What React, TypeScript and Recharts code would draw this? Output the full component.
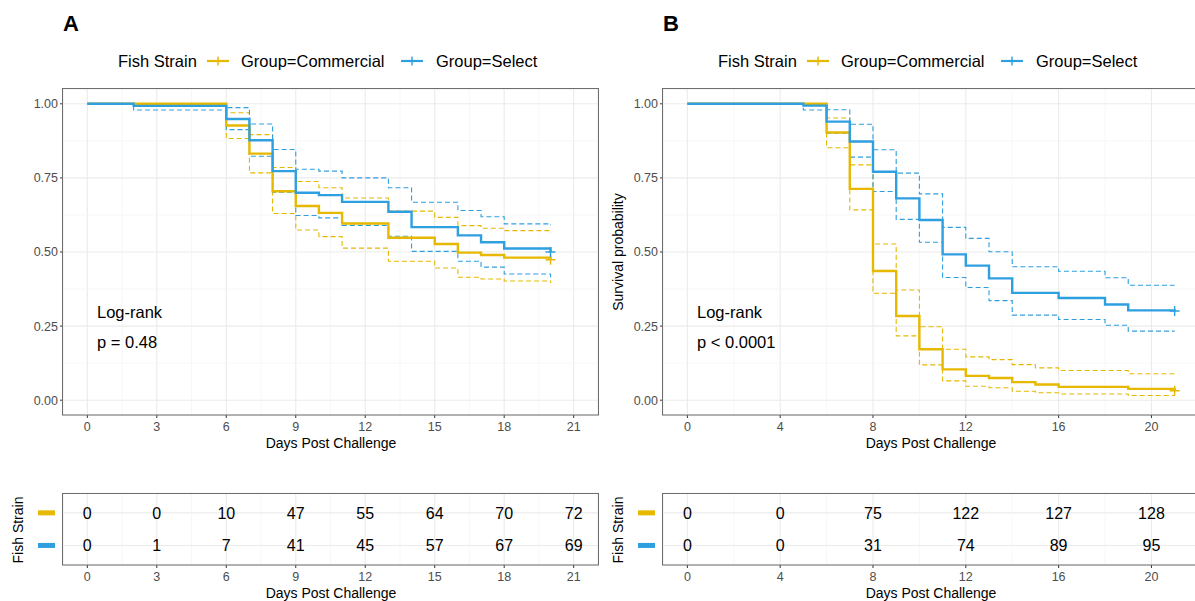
import React from 'react';
import { ComposedChart, Line, XAxis, YAxis, ReferenceLine, Scatter, CartesianGrid } from 'recharts';

const FONT = '"Liberation Sans", Arial, Helvetica, sans-serif';
const YELLOW = '#E7B800';
const BLUE = '#2E9FDF';

// ---------- Panel A survival data (step values from each day) ----------
const daysA = [0, 2, 6, 7, 8, 9, 10, 11, 13, 14, 15, 16, 17, 18, 20];
const commercialA = [1, 1, 0.927, 0.832, 0.705, 0.655, 0.632, 0.596, 0.548, 0.548, 0.527, 0.498, 0.49, 0.481, 0.474];
const commercialHiA = [1, 1, 0.97, 0.896, 0.785, 0.738, 0.717, 0.682, 0.638, 0.638, 0.617, 0.589, 0.58, 0.572, 0.565];
const commercialLoA = [1, 1, 0.883, 0.767, 0.63, 0.574, 0.552, 0.513, 0.469, 0.469, 0.446, 0.415, 0.409, 0.402, 0.395];
const selectA = [1, 0.993, 0.949, 0.877, 0.773, 0.7, 0.692, 0.669, 0.636, 0.584, 0.584, 0.556, 0.533, 0.512, 0.5];
const selectHiA = [1, 1, 0.987, 0.932, 0.846, 0.779, 0.773, 0.75, 0.717, 0.668, 0.668, 0.64, 0.619, 0.595, 0.59];
const selectLoA = [1, 0.979, 0.913, 0.823, 0.702, 0.623, 0.615, 0.59, 0.553, 0.502, 0.502, 0.469, 0.449, 0.426, 0.415];

// ---------- Panel B survival data ----------
const daysB = [0, 5, 6, 7, 8, 9, 10, 11, 12, 13, 14, 15, 16, 18, 19, 21];
const commercialB = [1, 1, 0.903, 0.713, 0.436, 0.284, 0.172, 0.104, 0.082, 0.075, 0.061, 0.053, 0.045, 0.045, 0.038, 0.032];
const commercialHiB = [1, 1, 0.952, 0.794, 0.527, 0.372, 0.248, 0.172, 0.146, 0.137, 0.12, 0.109, 0.1, 0.1, 0.089, 0.089];
const commercialLoB = [1, 1, 0.852, 0.642, 0.361, 0.217, 0.119, 0.065, 0.047, 0.042, 0.03, 0.025, 0.021, 0.021, 0.016, 0.016];
const selectB = [1, 0.994, 0.94, 0.873, 0.771, 0.681, 0.608, 0.492, 0.454, 0.411, 0.362, 0.362, 0.345, 0.323, 0.303, 0.301];
const selectHiB = [1, 1, 0.98, 0.931, 0.845, 0.766, 0.696, 0.583, 0.546, 0.501, 0.45, 0.45, 0.435, 0.413, 0.388, 0.388];
const selectLoB = [1, 0.979, 0.901, 0.82, 0.704, 0.61, 0.533, 0.414, 0.38, 0.336, 0.287, 0.287, 0.272, 0.253, 0.233, 0.233];

// ---------- Risk tables (cumulative events) ----------
const tableDaysA = [0, 3, 6, 9, 12, 15, 18, 21];
const tableCommercialA = [0, 0, 10, 47, 55, 64, 70, 72];
const tableSelectA = [0, 1, 7, 41, 45, 57, 67, 69];
const tableDaysB = [0, 4, 8, 12, 16, 20];
const tableCommercialB = [0, 0, 75, 122, 127, 128];
const tableSelectB = [0, 0, 31, 74, 89, 95];

// ---------- Axis ticks ----------
const xTicksA = [0, 3, 6, 9, 12, 15, 18, 21];
const xMinorA = [1.5, 4.5, 7.5, 10.5, 13.5, 16.5, 19.5];
const xTicksB = [0, 4, 8, 12, 16, 20];
const xMinorB = [2, 6, 10, 14, 18, 22];
const yTicks = [0, 0.25, 0.5, 0.75, 1];
const yMinor = [0.125, 0.375, 0.625, 0.875];
const X_DOMAIN: [number, number] = [-1.05, 22.05];

const legendLabels = ['Group=Commercial', 'Group=Select'];

function buildSeries(days: number[], com: number[], comHi: number[], comLo: number[], sel: number[], selHi: number[], selLo: number[]) {
  return days.map((d, i) => ({ day: d, com: com[i], comHi: comHi[i], comLo: comLo[i], sel: sel[i], selHi: selHi[i], selLo: selLo[i] }));
}

const seriesA = buildSeries(daysA, commercialA, commercialHiA, commercialLoA, selectA, selectHiA, selectLoA);
const seriesB = buildSeries(daysB, commercialB, commercialHiB, commercialLoB, selectB, selectHiB, selectLoB);

function buildTable(days: number[], com: number[], sel: number[]) {
  return {
    com: days.map((d, i) => ({ day: d, row: 1, n: com[i] })),
    sel: days.map((d, i) => ({ day: d, row: 0, n: sel[i] })),
  };
}
const tableA = buildTable(tableDaysA, tableCommercialA, tableSelectA);
const tableB = buildTable(tableDaysB, tableCommercialB, tableSelectB);

const tickStyle = { fill: '#4D4D4D', fontSize: 12.5, fontFamily: FONT };

function censorDot(color: string, lastIndex: number) {
  return (p: any) => {
    if (p.index !== lastIndex) return <g key={`n${p.index}`} />;
    return (
      <path key={`c${p.index}`} d={`M${p.cx - 5},${p.cy}h10M${p.cx},${p.cy - 5}v10`} stroke={color} strokeWidth={1.4} fill="none" />
    );
  };
}

function SurvPlot({ data, xTicks, xMinor, left, width }: any) {
  const last = data.length - 1;
  return (
    <div style={{ position: 'absolute', left, top: 80 }}>
      <ComposedChart width={width} height={380} data={data} margin={{ top: 9, right: 0, left: 0, bottom: 0 }}>
        <CartesianGrid stroke="#EBEBEB" strokeWidth={1.1} />
        {xMinor.map((v: number) => (
          <ReferenceLine key={`xm${v}`} x={v} stroke="#F3F3F3" strokeWidth={0.7} />
        ))}
        {yMinor.map((v: number) => (
          <ReferenceLine key={`ym${v}`} y={v} stroke="#F3F3F3" strokeWidth={0.7} />
        ))}
        <XAxis type="number" dataKey="day" domain={X_DOMAIN} ticks={xTicks} interval={0} height={45}
          axisLine={false} tickSize={3} tickMargin={4} tickLine={{ stroke: '#333333' }} tick={tickStyle} />
        <YAxis type="number" domain={[-0.05, 1.05]} ticks={yTicks} interval={0} width={63}
          axisLine={false} tickSize={3} tickMargin={2} tickLine={{ stroke: '#333333' }} tick={tickStyle}
          tickFormatter={(v: number) => v.toFixed(2)} />
        <Line type="stepAfter" dataKey="comHi" stroke={YELLOW} strokeWidth={1.1} strokeDasharray="5 3" dot={false} isAnimationActive={false} />
        <Line type="stepAfter" dataKey="comLo" stroke={YELLOW} strokeWidth={1.1} strokeDasharray="5 3" dot={false} isAnimationActive={false} />
        <Line type="stepAfter" dataKey="selHi" stroke={BLUE} strokeWidth={1.1} strokeDasharray="5 3" dot={false} isAnimationActive={false} />
        <Line type="stepAfter" dataKey="selLo" stroke={BLUE} strokeWidth={1.1} strokeDasharray="5 3" dot={false} isAnimationActive={false} />
        <Line type="stepAfter" dataKey="com" stroke={YELLOW} strokeWidth={2.4} dot={censorDot(YELLOW, last)} isAnimationActive={false} />
        <Line type="stepAfter" dataKey="sel" stroke={BLUE} strokeWidth={2.4} dot={censorDot(BLUE, last)} isAnimationActive={false} />
      </ComposedChart>
    </div>
  );
}

function numberShape(p: any) {
  return (
    <text x={p.cx} y={p.cy + 0.358 * 16} textAnchor="middle" fontSize={16} fontFamily={FONT} fill="#000000">
      {p.payload.n}
    </text>
  );
}

function barTick(p: any) {
  return (
    <rect x={p.x - 17} y={p.y - 2.5} width={17} height={5} fill={p.payload.value === 1 ? YELLOW : BLUE} />
  );
}

function RiskTable({ table, xTicks, xMinor, left, width }: any) {
  return (
    <div style={{ position: 'absolute', left, top: 480 }}>
      <ComposedChart width={width} height={125} margin={{ top: 13.3, right: 0, left: 0, bottom: 0 }}>
        <CartesianGrid stroke="#EBEBEB" strokeWidth={1.1} />
        {xMinor.map((v: number) => (
          <ReferenceLine key={`txm${v}`} x={v} stroke="#F3F3F3" strokeWidth={0.7} />
        ))}
        <XAxis type="number" dataKey="day" domain={X_DOMAIN} ticks={xTicks} interval={0} height={40}
          axisLine={false} tickSize={3} tickMargin={4} tickLine={{ stroke: '#333333' }} tick={tickStyle} />
        <YAxis type="number" dataKey="row" domain={[-0.6, 1.6]} ticks={[0, 1]} interval={0} width={63}
          axisLine={false} tickLine={false} tickSize={0} tickMargin={8} tick={barTick} />
        <Scatter data={table.com} shape={numberShape} isAnimationActive={false} />
        <Scatter data={table.sel} shape={numberShape} isAnimationActive={false} />
      </ComposedChart>
    </div>
  );
}

function Txt({ x, y, size, children, anchor = 'start', weight = 400, fill = '#000000', rotate = false }: any) {
  if (rotate) {
    return (
      <text transform={`translate(${x},${y}) rotate(-90)`} x={0} y={0.358 * size} textAnchor="middle"
        fontSize={size} fontFamily={FONT} fontWeight={weight} fill={fill}>{children}</text>
    );
  }
  return (
    <text x={x} y={y + 0.358 * size} textAnchor={anchor} fontSize={size} fontFamily={FONT} fontWeight={weight} fill={fill}>
      {children}
    </text>
  );
}

function LegendKey({ cx, cy, color }: any) {
  return (
    <g>
      <line x1={cx - 11} x2={cx + 11} y1={cy} y2={cy} stroke={color} strokeWidth={2.2} />
      <line x1={cx} x2={cx} y1={cy - 4.5} y2={cy + 4.5} stroke={color} strokeWidth={1.4} />
    </g>
  );
}

function Overlay() {
  const panels = [
    { dx: 0, title: 'A', p: 'p = 0.48', ylab: false },
    { dx: 600, title: 'B', p: 'p < 0.0001', ylab: true },
  ];
  return (
    <svg width={1195} height={601} style={{ position: 'absolute', left: 0, top: 0, pointerEvents: 'none' }}>
      {panels.map((pn) => (
        <g key={pn.title}>
          <Txt x={63 + pn.dx} y={23} size={22} weight={700}>{pn.title}</Txt>
          <Txt x={118 + pn.dx} y={61} size={16.5}>Fish Strain</Txt>
          <LegendKey cx={218 + pn.dx} cy={61} color={YELLOW} />
          <Txt x={241 + pn.dx} y={61} size={16.5}>{legendLabels[0]}</Txt>
          <LegendKey cx={412 + pn.dx} cy={61} color={BLUE} />
          <Txt x={436 + pn.dx} y={61} size={16.5}>{legendLabels[1]}</Txt>
          <rect x={62.5 + pn.dx} y={88.5} width={536} height={326.5} fill="none" stroke="#6E6E6E" strokeWidth={1} />
          <Txt x={97 + pn.dx} y={312.5} size={16.5}>Log-rank</Txt>
          <Txt x={97 + pn.dx} y={342.5} size={16.5}>{pn.p}</Txt>
          <Txt x={331 + pn.dx} y={443} size={14} anchor="middle">Days Post Challenge</Txt>
          {pn.ylab && <Txt x={618} y={252} size={14} rotate>Survival probability</Txt>}
          <rect x={62.5 + pn.dx} y={493.5} width={536} height={71.5} fill="none" stroke="#6E6E6E" strokeWidth={1} />
          <Txt x={331 + pn.dx} y={593} size={14} anchor="middle">Days Post Challenge</Txt>
          <Txt x={18 + pn.dx} y={530} size={14} rotate>Fish Strain</Txt>
        </g>
      ))}
    </svg>
  );
}

export default function App() {
  return (
    <div style={{ position: 'absolute', left: 0, top: 0, width: 1195, height: 601, overflow: 'hidden', background: '#FFFFFF', fontFamily: FONT }}>
      <SurvPlot data={seriesA} xTicks={xTicksA} xMinor={xMinorA} left={0} width={598} />
      <SurvPlot data={seriesB} xTicks={xTicksB} xMinor={xMinorB} left={600} width={599} />
      <RiskTable table={tableA} xTicks={xTicksA} xMinor={xMinorA} left={0} width={598} />
      <RiskTable table={tableB} xTicks={xTicksB} xMinor={xMinorB} left={600} width={599} />
      <Overlay />
    </div>
  );
}
